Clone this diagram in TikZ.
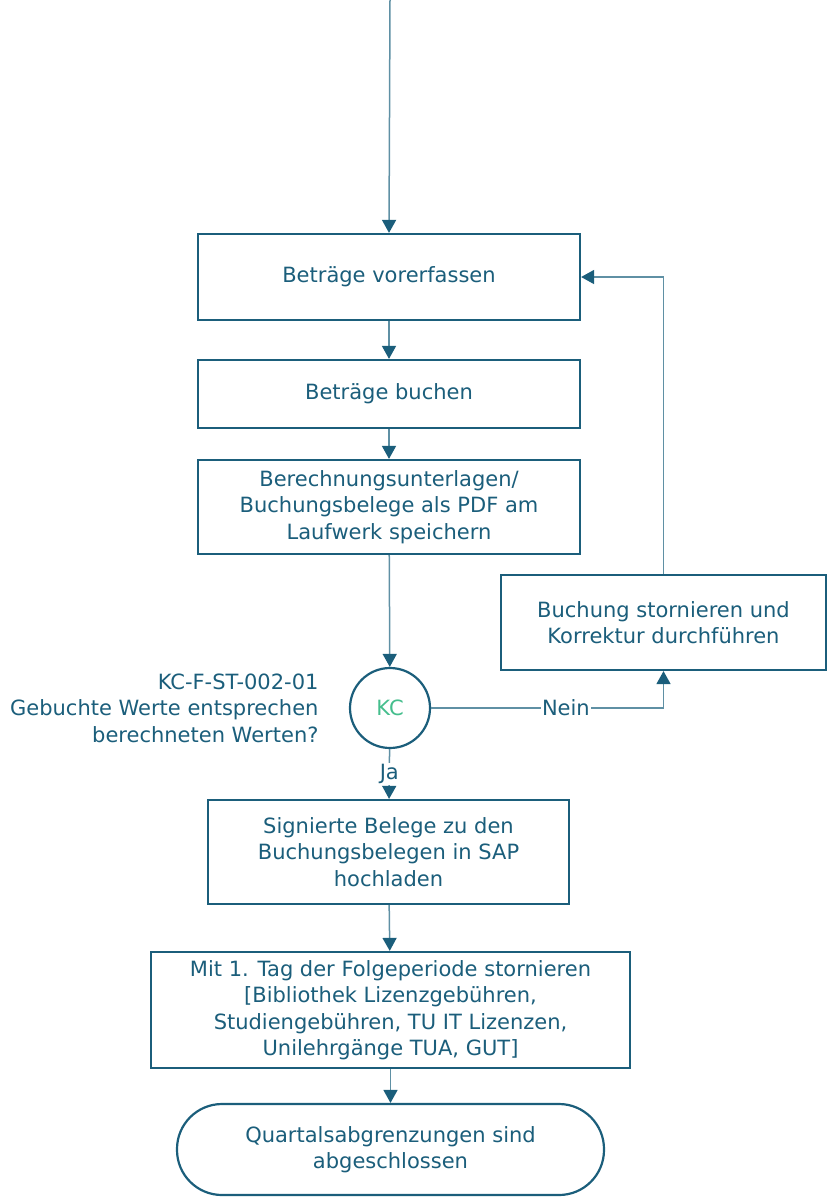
\documentclass[tikz,border=0pt]{standalone}
\usepackage{fontspec}
\setmainfont{DejaVu Sans}
\usetikzlibrary{arrows.meta}
\definecolor{petrol}{HTML}{1B5E7B}
\definecolor{petrollight}{HTML}{5F90A4}
\definecolor{kcgreen}{HTML}{45BE8D}

\begin{document}
\begin{tikzpicture}[x=1pt, y=-1pt,
	every node/.style={font=\fontsize{21}{26.5}\selectfont, text=petrol},
	box/.style={draw=petrol, line width=2.2pt, fill=white, inner sep=0pt, align=center},
	conn/.style={draw=petrollight, line width=1.5pt, -{Triangle[length=13pt, width=14pt, color=petrol]}},
	lbl/.style={fill=white, inner sep=1pt}]
	\useasboundingbox (0,0) rectangle (827,1202);
	\coordinate (top) at (390,0);
	\node[box, minimum width=382pt, minimum height=86pt] (vorerfassen) at (389,277) {Beträge vorerfassen};
	\node[box, minimum width=382pt, minimum height=68pt] (buchen) at (389,394) {Beträge buchen};
	\node[box, minimum width=382pt, minimum height=94pt] (speichern) at (389,507) {Berechnungsunterlagen/\\Buchungsbelege als PDF am\\Laufwerk speichern};
	\node[box, circle, minimum size=80pt, text=kcgreen] (kc) at (390,708) {KC};
	\node[anchor=east, align=right] (kctext) at (322,708) {KC-F-ST-002-01\\Gebuchte Werte entsprechen\\berechneten Werten?};
	\node[box, minimum width=325pt, minimum height=95pt] (storno) at (663.5,622.5) {Buchung stornieren und\\Korrektur durchführen};
	\node[box, minimum width=361pt, minimum height=104pt] (hochladen) at (388.5,852) {Signierte Belege zu den\\Buchungsbelegen in SAP\\hochladen};
	\node[box, minimum width=479pt, minimum height=116pt] (folge) at (390.5,1010) {Mit 1. Tag der Folgeperiode stornieren\\{[}Bibliothek Lizenzgebühren,\\Studiengebühren, TU IT Lizenzen,\\Unilehrgänge TUA, GUT{]}};
	\node[box, minimum width=427pt, minimum height=91pt, rounded corners=45pt] (ende) at (390.5,1149.5) {Quartalsabgrenzungen sind\\abgeschlossen};
	\draw[conn] (top) -- (vorerfassen.north);
	\draw[conn] (vorerfassen) -- (buchen);
	\draw[conn] (buchen) -- (speichern);
	\draw[conn] (speichern) -- (kc);
	\draw[conn] (kc.east) -| node[lbl, pos=0.29] {Nein} (storno.south);
	\draw[conn] (storno.north) |- (vorerfassen.east);
	\draw[conn] (kc) -- node[lbl, pos=0.5] {Ja} (hochladen);
	\draw[conn] (hochladen) -- (folge);
	\draw[conn] (folge) -- (ende);
\end{tikzpicture}
\end{document}
